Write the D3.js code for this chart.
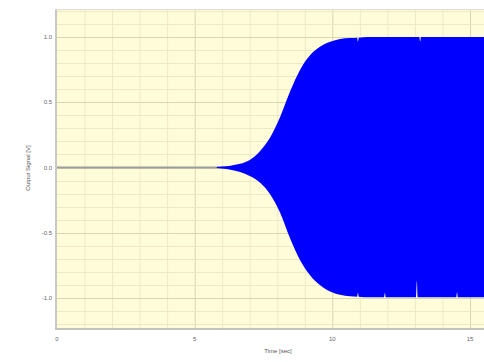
<!DOCTYPE html>
<html><head><meta charset="utf-8">
<script src="https://cdn.jsdelivr.net/npm/d3@7/dist/d3.min.js"></script>
<style>body{margin:0;background:#fff}svg{display:block}</style>
</head><body>
<svg id="c" width="484" height="362"></svg>
<script>
// Envelope of the oscillating output signal (time in sec, amplitude in V)
const envTime  = [5.8, 6.0, 6.3, 6.65, 7.0, 7.37, 7.74, 8.10, 8.46, 8.83, 9.19, 9.55, 9.92, 10.28, 10.64, 10.90, 10.93, 10.96, 11.3, 11.88, 11.91, 11.94, 13.04, 13.07, 13.10, 13.16, 13.19, 13.22, 14.50, 14.53, 14.56, 16.2];
const envUpper = [0.003, 0.007, 0.014, 0.028, 0.058, 0.125, 0.23, 0.385, 0.58, 0.75, 0.86, 0.925, 0.963, 0.985, 0.992, 0.995, 0.965, 0.995, 1.0, 1.0, 1.0, 1.0, 1.0, 1.0, 1.0, 1.0, 0.965, 1.0, 1.0, 1.0, 1.0, 1.0];
const envLower = [-0.003, -0.008, -0.017, -0.035, -0.065, -0.115, -0.205, -0.345, -0.54, -0.71, -0.825, -0.9, -0.95, -0.975, -0.986, -0.99, -0.96, -0.99, -0.995, -0.995, -0.96, -0.995, -0.995, -0.87, -0.995, -0.995, -0.995, -0.995, -0.995, -0.955, -0.995, -0.995];
// quiet part of the trace before the oscillation grows
const quietTime  = [0, 6.6];
const quietValue = [0, 0];
const xTicks = [0, 5, 10, 15];
const xTickLabels = ["0", "5", "10", "15"];
const yTicks = [1.0, 0.5, 0.0, -0.5, -1.0];
const yTickLabels = ["1.0", "0.5", "0.0", "-0.5", "-1.0"];
const xTitle = "Time [sec]";
const yTitle = "Output Signal [V]";

const svg = d3.select("#c");
const x = d3.scaleLinear().domain([0, 15]).range([57, 470]);
const y = d3.scaleLinear().domain([-1, 1]).range([298, 37]);
const plotTop = 10, plotBottom = 328, tMax = 16.2;
const left = x(0), right = x(tMax);

// background
svg.append("rect").attr("x", left).attr("y", plotTop)
  .attr("width", right - left).attr("height", plotBottom - plotTop)
  .attr("fill", "#fffdd9");

// grid
const g = svg.append("g");
const vMinor = d3.range(1, 17);
g.selectAll("line.v").data(vMinor).join("line")
  .attr("x1", d => x(d) + 0.5).attr("x2", d => x(d) + 0.5)
  .attr("y1", plotTop).attr("y2", plotBottom)
  .attr("stroke", d => d % 5 === 0 ? "#d9d6b4" : "#eceac6").attr("stroke-width", 1);
const hVals = d3.range(-12, 13).map(d => d / 10);
g.selectAll("line.h").data(hVals).join("line")
  .attr("y1", d => Math.round(y(d)) + 0.5).attr("y2", d => Math.round(y(d)) + 0.5)
  .attr("x1", left).attr("x2", right)
  .attr("stroke", d => Math.abs(Math.round(d * 10)) % 5 === 0 ? "#d9d6b4" : "#eceac6").attr("stroke-width", 1);

// quiet trace
const qLine = d3.line().x(d => x(d[0])).y(d => y(d[1]));
svg.append("path").datum(quietTime.map((t, i) => [t, quietValue[i]]))
  .attr("d", qLine).attr("fill", "none").attr("stroke", "#9c9c9c").attr("stroke-width", 2);

// oscillation envelope
const area = d3.area()
  .x((d, i) => x(envTime[i]))
  .y0((d, i) => y(envLower[i]))
  .y1((d, i) => y(envUpper[i]))
  .curve(d3.curveMonotoneX);
svg.append("path").datum(envTime).attr("d", area).attr("fill", "#0000ff");

// frame
svg.append("line").attr("x1", left - 1).attr("x2", left - 1).attr("y1", plotTop).attr("y2", plotBottom + 1)
  .attr("stroke", "#c9c9c4").attr("stroke-width", 2);
svg.append("line").attr("x1", left - 2).attr("x2", right).attr("y1", plotBottom + 1).attr("y2", plotBottom + 1)
  .attr("stroke", "#c4c4c0").attr("stroke-width", 2);
svg.append("line").attr("x1", left - 2).attr("x2", right).attr("y1", plotTop - 0.5).attr("y2", plotTop - 0.5)
  .attr("stroke", "#dcdcd8").attr("stroke-width", 1);

// tick labels
svg.append("g").selectAll("text").data(yTicks).join("text")
  .attr("x", 52).attr("y", d => y(d) + 2)
  .attr("text-anchor", "end").attr("font-family", "Liberation Sans, Arial, sans-serif")
  .attr("font-size", 6).attr("fill", "#666")
  .text((d, i) => yTickLabels[i]);
svg.append("g").selectAll("text").data(xTicks).join("text")
  .attr("x", d => x(d)).attr("y", 341)
  .attr("text-anchor", "middle").attr("font-family", "Liberation Sans, Arial, sans-serif")
  .attr("font-size", 6).attr("fill", "#666")
  .text((d, i) => xTickLabels[i]);

// titles
svg.append("text").attr("x", 278).attr("y", 353).attr("text-anchor", "middle")
  .attr("font-family", "Liberation Sans, Arial, sans-serif").attr("font-size", 6).attr("fill", "#555")
  .text(xTitle);
svg.append("text").attr("transform", "translate(30,168) rotate(-90)").attr("text-anchor", "middle")
  .attr("font-family", "Liberation Sans, Arial, sans-serif").attr("font-size", 6).attr("fill", "#555")
  .text(yTitle);
</script>
</body></html>
